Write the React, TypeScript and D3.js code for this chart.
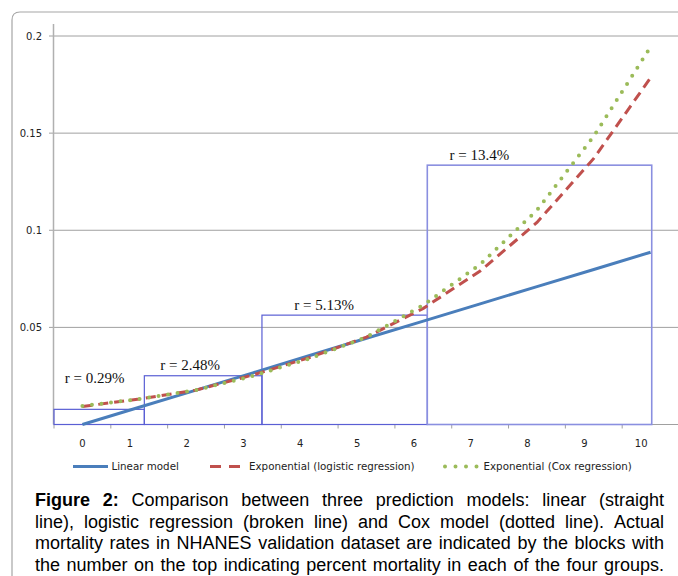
import React from "react";
import * as d3 from "d3";

// categories on the x axis
const categories = ["0", "1", "2", "3", "4", "5", "6", "7", "8", "9", "10"];
const yTicks = [0.05, 0.1, 0.15, 0.2];
const yTickLabels = ["0.05", "0.1", "0.15", "0.2"];

// model predictions at each category
const linearModel = [0, 0.0089, 0.0177, 0.0266, 0.0355, 0.0444, 0.0532, 0.0621, 0.071, 0.0798, 0.0887];
const logisticModel = [0.0093, 0.0131, 0.0177, 0.0255, 0.0345, 0.045, 0.0598, 0.079, 0.104, 0.137, 0.1785];
const coxModel = [0.0095, 0.0131, 0.0177, 0.025, 0.034, 0.045, 0.0615, 0.0824, 0.1103, 0.1484, 0.1944];

// observed mortality blocks (x in category units)
const blockStart = [-0.5, 1.09, 3.16, 6.07];
const blockEnd = [1.09, 3.16, 6.07, 10.02];
const blockRate = [0.0078, 0.0251, 0.0563, 0.1335];
const blockLabels = ["r = 0.29%", "r = 2.48%", "r = 5.13%", "r = 13.4%"];
const blockLabelX = [-0.31, 1.37, 3.73, 6.46];
const blockLabelY = [0.0212, 0.028, 0.0592, 0.1364];

const legendNames = ["Linear model", "Exponential (logistic regression)", "Exponential (Cox regression)"];

const captionLines = [
  "Figure 2: Comparison between three prediction models: linear (straight",
  "line), logistic regression (broken line) and Cox model (dotted line).  Actual",
  "mortality rates in NHANES validation dataset are indicated by the blocks with",
  "the number on the top indicating percent mortality in each of the four groups.",
];

const W = 678;
const H = 576;
const left = 54;
const right = 679;
const sans = "'DejaVu Sans', Verdana, sans-serif";
const capFont = "'Liberation Sans', Arial, sans-serif";

const x = d3.scaleBand().domain(categories).range([left, right]);
const xc = d3.scaleLinear().domain([-0.5, 10.5]).range([left, right]);
const y = d3.scaleLinear().domain([0, 0.2]).range([424.5, 36]);

const curve = d3
  .line<number>()
  .x((_, i) => xc(i))
  .y((d) => y(d));

function justify(lines: string[], x0: number, x1: number, size: number) {
  const ctx = document.createElement("canvas").getContext("2d")!;
  return lines.map((line, li) => {
    const words = line.split(" ").filter((w) => w.length);
    const items = words.map((w, wi) => {
      const bold = li === 0 && wi < 2;
      ctx.font = `${bold ? "bold " : ""}${size}px 'Liberation Sans'`;
      return { w, bold, width: ctx.measureText(w).width };
    });
    const total = d3.sum(items, (d) => d.width);
    const gap = (x1 - x0 - total) / (items.length - 1);
    let pos = x0;
    return items.map((it) => {
      const r = { ...it, x: pos };
      pos += it.width + gap;
      return r;
    });
  });
}

export default function App() {
  const caption = justify(captionLines, 35, 664, 18);
  const bw = x.bandwidth();

  return (
    <svg
      width={W}
      height={H}
      style={{ position: "absolute", left: 0, top: 0, background: "#fff" }}
    >
      {/* frame */}
      <path d="M12,576 L12,20 Q12,12 20,12 L680,12" fill="none" stroke="#a6a6a6" strokeWidth={1.2} />

      {/* gridlines */}
      {yTicks.map((t) => (
        <line key={t} x1={left} x2={W} y1={y(t)} y2={y(t)} stroke="#a0a0a0" strokeWidth={1} />
      ))}
      {yTicks.map((t, i) => (
        <g key={"yt" + t}>
          <line x1={49} x2={left} y1={y(t)} y2={y(t)} stroke="#a0a0a0" />
          <text x={42} y={y(t) + 3.5} textAnchor="end" fontFamily={sans} fontSize={10} fill="#222">
            {yTickLabels[i]}
          </text>
        </g>
      ))}

      {/* axes */}
      <line x1={left - 0.5} x2={left - 0.5} y1={24} y2={y(0)} stroke="#b0b0b0" strokeWidth={1.5} />
      <line x1={left} x2={W} y1={y(0)} y2={y(0)} stroke="#a0a0a0" strokeWidth={1.2} />
      {categories.map((c) => (
        <line key={"xt" + c} x1={x(c)!} x2={x(c)!} y1={y(0)} y2={y(0) + 4} stroke="#a0a0a0" />
      ))}
      {categories.map((c, i) => (
        <text
          key={"xl" + c}
          x={x(c)! + bw / 2 - (i === 0 ? 0 : 9.4)}
          y={447}
          textAnchor="middle"
          fontFamily={sans}
          fontSize={10}
          fill="#222"
        >
          {c}
        </text>
      ))}

      {/* blocks */}
      {blockRate.map((r, i) => (
        <rect
          key={"b" + i}
          x={xc(blockStart[i])}
          y={y(r)}
          width={xc(blockEnd[i]) - xc(blockStart[i])}
          height={y(0) - y(r)}
          fill="none"
          stroke={i === 3 ? "#8a8fe0" : "#5a5fd4"}
          strokeWidth={i === 3 ? 1.6 : 1.2}
        />
      ))}
      {blockLabels.map((l, i) => (
        <text
          key={"bl" + i}
          x={xc(blockLabelX[i])}
          y={y(blockLabelY[i])}
          fontFamily="'Liberation Serif', 'Times New Roman', serif"
          fontSize={15}
          fill="#111"
        >
          {l}
        </text>
      ))}

      {/* model curves */}
      <path d={curve(linearModel)!} fill="none" stroke="#4a7ebb" strokeWidth={3} />
      <path d={curve(logisticModel)!} fill="none" stroke="#c0504d" strokeWidth={3} strokeDasharray="10 6" />
      <path
        d={curve(coxModel)!}
        fill="none"
        stroke="#9bbb59"
        strokeWidth={4}
        strokeLinecap="round"
        strokeDasharray="0 9.6"
      />

      {/* legend */}
      <g fontFamily={sans} fontSize={10.3} fill="#222">
        <line x1={73} x2={108} y1={466.5} y2={466.5} stroke="#4a7ebb" strokeWidth={3} />
        <text x={111.5} y={470}>{legendNames[0]}</text>
        <line x1={210} x2={245} y1={466.5} y2={466.5} stroke="#c0504d" strokeWidth={3} strokeDasharray="11 8" />
        <text x={249} y={470}>{legendNames[1]}</text>
        <line
          x1={445}
          x2={477}
          y1={466.5}
          y2={466.5}
          stroke="#9bbb59"
          strokeWidth={4}
          strokeLinecap="round"
          strokeDasharray="0 10.5"
        />
        <text x={483.5} y={470}>{legendNames[2]}</text>
      </g>

      {/* caption */}
      <g fontFamily={capFont} fontSize={18} fill="#000">
        {caption.map((line, li) => (
          <text key={"c" + li} y={506 + li * 21.6}>
            {line.map((w, wi) => (
              <tspan key={wi} x={w.x} fontWeight={w.bold ? "bold" : "normal"}>
                {w.w}
              </tspan>
            ))}
          </text>
        ))}
      </g>
    </svg>
  );
}
